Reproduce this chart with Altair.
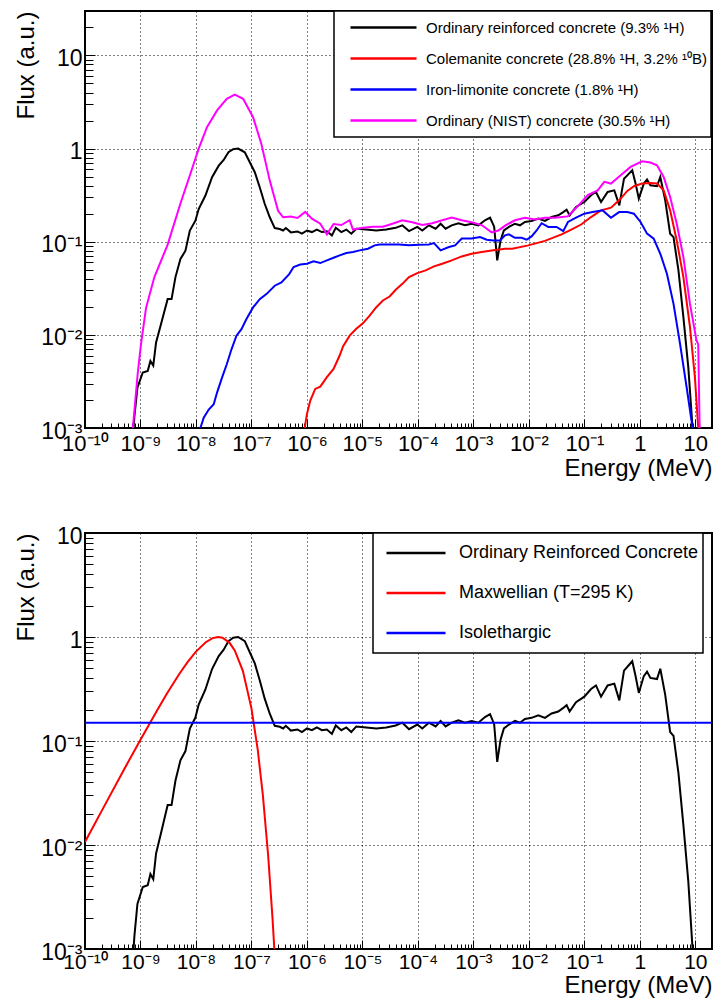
import json
import altair as alt
import pandas as pd

FONT = "Liberation Sans"

# ---------------- data ----------------
ORC_E = [6.9e-10, 7.76e-10, 8.81e-10, 1.10e-9, 1.35e-9, 1.51e-9, 1.70e-9, 1.91e-9, 2.34e-9, 3.09e-9,
         3.63e-9, 4.27e-9, 5.25e-9, 6.46e-9, 7.76e-9, 9.77e-9, 1.12e-8, 1.48e-8, 1.95e-8, 2.57e-8,
         3.16e-8, 3.85e-8, 4.68e-8, 5.75e-8, 7.59e-8, 9.33e-8, 1.15e-7, 1.41e-7, 1.74e-7, 2.14e-7,
         2.63e-7, 3.24e-7, 3.72e-7, 4.17e-7, 5.13e-7, 6.76e-7, 8.13e-7, 1.0e-6, 1.23e-6, 1.51e-6,
         1.86e-6, 2.29e-6, 2.82e-6, 3.31e-6, 4.17e-6, 5.13e-6, 6.31e-6, 7.76e-6, 1.17e-5, 1.78e-5,
         2.69e-5, 3.98e-5, 5.25e-5, 6.92e-5, 9.77e-5, 1.20e-4, 1.58e-4, 2.09e-4, 2.57e-4, 3.16e-4,
         4.07e-4, 5.37e-4, 7.08e-4, 9.33e-4, 1.23e-3, 1.62e-3, 2.00e-3, 2.37e-3, 2.69e-3, 3.09e-3,
         3.55e-3, 4.37e-3, 5.62e-3, 6.92e-3, 8.51e-3, 1.12e-2, 1.48e-2, 1.95e-2, 2.57e-2, 3.39e-2,
         4.17e-2, 4.79e-2, 5.43e-2, 7.08e-2, 0.100, 0.132, 0.162, 0.200, 0.263, 0.347,
         0.427, 0.519, 0.637, 0.731, 0.838, 0.959, 1.18, 1.35, 1.55, 2.04,
         2.34, 2.87, 3.52, 4.05, 4.97, 6.10, 7.48, 8.93, 9.33]
ORC_F = [5e-4, 1.32e-3, 2.71e-3, 3.94e-3, 4.10e-3, 5.25e-3, 4.68e-3, 8.3e-3, 0.0130, 0.0242,
         0.0242, 0.0417, 0.0652, 0.080, 0.132, 0.168, 0.224, 0.313, 0.492, 0.656,
         0.755, 0.914, 0.984, 1.0, 0.912, 0.713, 0.557, 0.384, 0.254, 0.183,
         0.140, 0.137, 0.132, 0.140, 0.126, 0.129, 0.122, 0.132, 0.127, 0.135,
         0.127, 0.129, 0.117, 0.141, 0.127, 0.135, 0.122, 0.138, 0.135, 0.132,
         0.135, 0.141, 0.150, 0.130, 0.144, 0.132, 0.150, 0.138, 0.156, 0.138,
         0.150, 0.158, 0.150, 0.156, 0.150, 0.170, 0.181, 0.145, 0.063, 0.103,
         0.132, 0.144, 0.156, 0.150, 0.163, 0.167, 0.177, 0.167, 0.184, 0.192,
         0.208, 0.221, 0.192, 0.236, 0.267, 0.316, 0.342, 0.267, 0.342, 0.356,
         0.246, 0.475, 0.538, 0.585, 0.421, 0.290, 0.421, 0.465, 0.404, 0.394,
         0.495, 0.278, 0.122, 0.112, 0.0492, 0.0155, 4.47e-3, 1.0e-3, 5e-4]

COL_E = [8.3e-7, 1.0e-6, 1.15e-6, 1.41e-6, 1.74e-6, 2.29e-6, 3.02e-6, 3.89e-6, 4.47e-6, 5.89e-6,
         7.76e-6, 1.02e-5, 1.35e-5, 1.78e-5, 2.34e-5, 3.09e-5, 3.98e-5, 5.25e-5, 6.92e-5, 9.77e-5,
         1.38e-4, 1.95e-4, 2.75e-4, 4.07e-4, 6.17e-4, 9.33e-4, 1.41e-3, 2.14e-3, 3.72e-3, 5.01e-3,
         9.77e-3, 1.95e-2, 3.89e-2, 5.82e-2, 8.75e-2, 0.132, 0.200, 0.302, 0.423, 0.596,
         0.783, 1.10, 1.55, 2.04, 2.69, 3.52, 4.63, 6.10, 8.02, 9.84, 11.3, 11.7]
COL_F = [7e-4, 1.41e-3, 1.97e-3, 2.63e-3, 2.78e-3, 3.51e-3, 4.31e-3, 6.0e-3, 7.5e-3, 9.8e-3,
         0.0116, 0.0133, 0.0161, 0.0198, 0.0234, 0.0258, 0.0305, 0.0353, 0.0417, 0.046,
         0.0492, 0.0543, 0.058, 0.063, 0.0695, 0.0743, 0.0774, 0.0807, 0.0841, 0.084,
         0.0914, 0.102, 0.120, 0.135, 0.153, 0.184, 0.217, 0.232, 0.278, 0.351,
         0.394, 0.421, 0.428, 0.421, 0.356, 0.217, 0.103, 0.0417, 0.0121, 3.51e-3, 1.0e-3, 6e-4]

IRON_E = [1.05e-8, 1.38e-8, 1.70e-8, 2.09e-8, 2.40e-8, 2.95e-8, 3.59e-8, 4.37e-8, 5.37e-8, 6.61e-8,
          8.13e-8, 1.07e-7, 1.41e-7, 1.86e-7, 2.63e-7, 3.47e-7, 4.79e-7, 5.75e-7, 7.59e-7, 1.0e-6,
          1.32e-6, 1.74e-6, 2.29e-6, 3.02e-6, 3.89e-6, 5.13e-6, 6.76e-6, 8.91e-6, 1.26e-5, 1.66e-5,
          2.04e-5, 3.09e-5, 4.57e-5, 6.92e-5, 1.05e-4, 1.58e-4, 1.95e-4, 2.57e-4, 3.63e-4, 4.68e-4,
          6.17e-4, 9.33e-4, 1.32e-3, 1.74e-3, 2.29e-3, 3.02e-3, 3.72e-3, 4.37e-3, 5.62e-3, 7.41e-3,
          9.12e-3, 1.12e-2, 1.38e-2, 1.70e-2, 2.24e-2, 3.16e-2, 4.17e-2, 5.07e-2, 7.08e-2, 0.100,
          0.141, 0.214, 0.302, 0.423, 0.596, 0.783, 1.03, 1.35, 1.78, 2.34,
          3.08, 4.05, 5.31, 6.98, 8.93, 9.33]
IRON_F = [7.8e-4, 1.29e-3, 1.58e-3, 1.80e-3, 2.40e-3, 3.47e-3, 4.84e-3, 7.0e-3, 9.8e-3, 0.0115,
          0.0148, 0.0197, 0.0242, 0.0274, 0.0337, 0.0366, 0.0449, 0.0535, 0.057, 0.058,
          0.0615, 0.059, 0.063, 0.0673, 0.0713, 0.0755, 0.0774, 0.0807, 0.0841, 0.0914,
          0.0935, 0.0935, 0.0935, 0.0914, 0.0929, 0.0935, 0.0968, 0.0807, 0.0877, 0.0914,
          0.108, 0.108, 0.112, 0.105, 0.103, 0.103, 0.117, 0.120, 0.110, 0.110,
          0.105, 0.114, 0.132, 0.158, 0.144, 0.144, 0.130, 0.163, 0.181, 0.200,
          0.208, 0.217, 0.181, 0.208, 0.208, 0.200, 0.163, 0.122, 0.108, 0.0743,
          0.0453, 0.0215, 8.0e-3, 2.74e-3, 1.0e-3, 7.5e-4]

NIST_E = [6.8e-10, 8.9e-10, 1.02e-9, 1.26e-9, 1.78e-9, 3.09e-9, 5.25e-9, 7.94e-9, 1.12e-8, 1.58e-8,
          2.40e-8, 3.59e-8, 5.01e-8, 7.08e-8, 1.07e-7, 1.51e-7, 2.14e-7, 3.02e-7, 3.72e-7, 5.13e-7,
          6.76e-7, 9.3e-7, 1.23e-6, 1.74e-6, 2.29e-6, 3.02e-6, 4.17e-6, 5.89e-6, 6.76e-6, 1.02e-5,
          1.55e-5, 2.34e-5, 3.47e-5, 5.25e-5, 7.94e-5, 1.20e-4, 1.82e-4, 2.75e-4, 4.07e-4, 6.17e-4,
          9.33e-4, 1.41e-3, 2.14e-3, 2.82e-3, 3.80e-3, 5.62e-3, 8.51e-3, 1.29e-2, 1.95e-2, 2.95e-2,
          5.01e-2, 7.59e-2, 0.115, 0.174, 0.229, 0.302, 0.452, 0.682, 1.10, 1.55,
          2.04, 2.69, 3.52, 4.63, 6.10, 8.02, 10.5, 11.3, 12.3]
NIST_F = [6.3e-4, 3.8e-3, 7.9e-3, 0.0195, 0.0417, 0.093, 0.257, 0.537, 1.0, 1.70,
          2.57, 3.42, 3.80, 3.42, 2.17, 1.12, 0.453, 0.215, 0.183, 0.186,
          0.180, 0.209, 0.177, 0.156, 0.120, 0.155, 0.151, 0.170, 0.135, 0.141,
          0.145, 0.145, 0.156, 0.170, 0.162, 0.151, 0.158, 0.170, 0.182, 0.170,
          0.162, 0.151, 0.126, 0.132, 0.150, 0.170, 0.181, 0.173, 0.181, 0.181,
          0.187, 0.240, 0.316, 0.356, 0.439, 0.421, 0.516, 0.635, 0.731, 0.708,
          0.661, 0.495, 0.302, 0.156, 0.0684, 0.0215, 8.7e-3, 7.9e-3, 4e-4]

MAXW_E = [1e-10, 2e-10, 5e-10, 1e-9, 2e-9, 3e-9, 5e-9, 7e-9, 1e-8, 1.5e-8,
          2e-8, 2.5e-8, 3e-8, 4e-8, 5e-8, 7e-8, 1e-7, 1.3e-7, 1.6e-7, 2e-7,
          2.4e-7, 2.7e-7]
MAXW_F = [0.0107, 0.0213, 0.0527, 0.103, 0.198, 0.286, 0.441, 0.570, 0.724, 0.891,
          0.975, 1.0, 0.984, 0.884, 0.744, 0.473, 0.206, 0.082, 0.0308, 0.00793,
          0.00196, 6.7e-4]

ISO_E = [1e-10, 20.0]
ISO_F = [0.15, 0.15]

TOP_NAMES = ["Ordinary reinforced concrete (9.3% ¹H)",
             "Colemanite concrete (28.8% ¹H, 3.2% ¹⁰B)",
             "Iron-limonite concrete (1.8% ¹H)",
             "Ordinary (NIST) concrete (30.5% ¹H)"]
TOP_COLORS = ["#000000", "#ff0000", "#0000ff", "#ff00ff"]
BOT_NAMES = ["Ordinary Reinforced Concrete", "Maxwellian (T=295 K)", "Isolethargic"]
BOT_COLORS = ["#000000", "#ff0000", "#0000ff"]

X_TICKS = [1e-10, 1e-9, 1e-8, 1e-7, 1e-6, 1e-5, 1e-4, 1e-3, 1e-2, 1e-1, 1.0, 10.0]
X_LABELS = ["10⁻¹⁰", "10⁻⁹", "10⁻⁸", "10⁻⁷", "10⁻⁶", "10⁻⁵", "10⁻⁴", "10⁻³", "10⁻²", "10⁻¹", "1", "10"]
Y_TICKS = [1e-3, 1e-2, 1e-1, 1.0, 10.0]
Y_LABELS = ["10⁻³", "10⁻²", "10⁻¹", "1", "10"]

X_MAX = 20.0
X_MINOR = [m * d for d in X_TICKS for m in range(2, 10) if m * d < X_MAX]


def frame(names, pairs):
    rows = []
    for name, (es, fs) in zip(names, pairs):
        for e, f in zip(es, fs):
            rows.append({"E": e, "F": f, "series": name})
    return pd.DataFrame(rows)


top_df = frame(TOP_NAMES, [(ORC_E, ORC_F), (COL_E, COL_F), (IRON_E, IRON_F), (NIST_E, NIST_F)])
bot_df = frame(BOT_NAMES, [(ORC_E, ORC_F), (MAXW_E, MAXW_F), (ISO_E, ISO_F)])

W = 627
GRID = dict(grid=True, gridColor="#000000", gridDash=[1, 3], gridWidth=1, gridOpacity=1)


def panel(df, names, colors, ymax, height, legend, title_y, label_pad, label_size):
    xs = alt.Scale(type="log", domain=[1e-10, X_MAX], nice=False)
    ys = alt.Scale(type="log", domain=[1e-3, ymax], nice=False)
    y_minor = [m * d for d in Y_TICKS for m in range(2, 10) if m * d < ymax]
    xlab = json.dumps(X_LABELS, ensure_ascii=False) + "[round(log(datum.value)/LN10)+10]"
    ylab = json.dumps(Y_LABELS, ensure_ascii=False) + "[round(log(datum.value)/LN10)+3]"
    main = alt.Chart(df).mark_line(strokeWidth=2, clip=True).encode(
        x=alt.X("E:Q", scale=xs, axis=alt.Axis(
            orient="bottom", values=X_TICKS, labelExpr=xlab, ticks=False, tickSize=0, domain=False,
            labelFontSize=label_size, labelPadding=label_pad, labelFlush=False, labelOverlap=False,
            labelColor="#000",
            title="Energy (MeV)", titleFontSize=24, titleFontWeight="normal", titleColor="#000",
            titleAlign="right", titleBaseline="alphabetic", titleX=W, titleY=title_y, **GRID)),
        y=alt.Y("F:Q", scale=ys, axis=alt.Axis(
            orient="left", values=Y_TICKS, labelExpr=ylab, ticks=False, tickSize=0, domain=False,
            labelFontSize=23, labelPadding=3, labelAlign="right", labelBaseline="middle",
            labelOffset=3, labelFlush=False, labelOverlap=False, labelColor="#000",
            title="Flux (a.u.)", titleFontSize=24, titleFontWeight="normal", titleColor="#000",
            titleAngle=270, titleAlign="right", titleBaseline="alphabetic", titleX=-52, titleY=0,
            **GRID)),
        color=alt.Color("series:N", scale=alt.Scale(domain=names, range=colors), legend=legend),
        order=alt.Order("E:Q"),
    )

    def ticks(xv, xlen, yv, ylen):
        return alt.Chart(df).mark_line(opacity=0).encode(
            x=alt.X("E:Q", scale=xs, axis=alt.Axis(
                orient="bottom", values=xv, labels=False, grid=False, domain=False, ticks=True,
                tickSize=xlen, offset=-xlen, tickColor="#000", tickWidth=1, title=None)),
            y=alt.Y("F:Q", scale=ys, axis=alt.Axis(
                orient="left", values=yv, labels=False, grid=False, domain=False, ticks=True,
                tickSize=ylen, offset=-ylen, tickColor="#000", tickWidth=1, title=None)),
        )

    return alt.layer(main, ticks(X_TICKS, 9, Y_TICKS, 10), ticks(X_MINOR, 5, y_minor, 8)).resolve_axis(
        x="independent", y="independent").properties(width=W, height=height)


top_legend = alt.Legend(
    orient="none", legendX=249, legendY=0, title=None, direction="vertical",
    strokeColor="#000", fillColor="#ffffff", padding=4, symbolType="stroke", symbolSize=4356,
    symbolStrokeWidth=2.5, labelFontSize=15, labelColor="#000", clipHeight=25, rowPadding=6,
    symbolOffset=11, labelOffset=8, labelLimit=500)

bot_legend = alt.Legend(
    orient="none", legendX=288, legendY=0, title=None, direction="vertical",
    strokeColor="#000", fillColor="#ffffff", padding=4, symbolType="stroke", symbolSize=3481,
    symbolStrokeWidth=2.5, labelFontSize=18, labelColor="#000", clipHeight=32, rowPadding=8,
    symbolOffset=8, labelOffset=12, labelLimit=500,
    labelExpr="datum.label + '\u00a0'")

top = panel(top_df, TOP_NAMES, TOP_COLORS, 30.0, 417, top_legend, 47, 5, 22)
bottom = panel(bot_df, BOT_NAMES, BOT_COLORS, 10.0, 416, bot_legend, 43, 2, 21)

chart = alt.vconcat(top, bottom, spacing=105, bounds="flush").resolve_scale(
    x="independent", y="independent", color="independent").resolve_legend(
    color="independent").properties(
    padding={"left": 5, "top": 1, "right": 0, "bottom": 0}).configure(
    font=FONT).configure_view(stroke="#000000", strokeWidth=2).configure_legend(strokeWidth=1.5)

chart.save("out.html", embed_options={"renderer": "svg", "actions": False})
